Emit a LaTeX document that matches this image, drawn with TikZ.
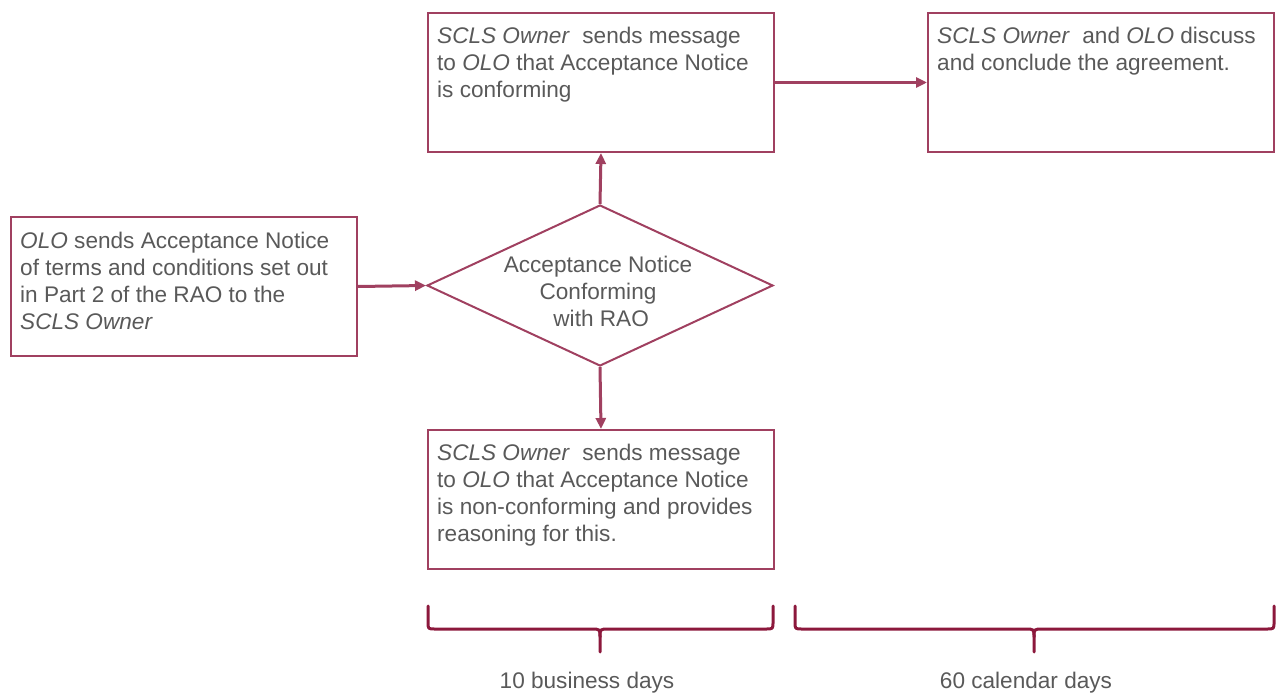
\documentclass[tikz,border=0pt]{standalone}
\usepackage{fontspec}
\setmainfont{Liberation Sans}
\usetikzlibrary{arrows.meta,shapes.geometric,calc}
\definecolor{framecol}{RGB}{160,64,96}
\definecolor{bracecol}{RGB}{140,24,60}
\definecolor{txtcol}{RGB}{89,89,89}
\begin{document}
\begin{tikzpicture}[x=1pt,y=-1pt,
  box/.style={draw=framecol,line width=2pt,minimum width=346pt,minimum height=139pt,inner sep=0pt,anchor=north west},
  body/.style={anchor=north west,inner sep=0pt,align=left,text=txtcol,font=\fontsize{22.6}{27.3}\selectfont},
  flow/.style={draw=framecol,line width=3pt,-{Triangle[length=11pt,width=10pt]}},
  bracket/.style={draw=bracecol,line width=3pt,line cap=round,line join=round},
  span/.style={text=txtcol,inner sep=0pt,font=\fontsize{22.6}{27}\selectfont}]
\useasboundingbox (0,0) rectangle (1282,695);

% process boxes
\node[box] (notice) at (10,216) {};
\node[box] (conf) at (427,12) {};
\node[box] (agree) at (927,12) {};
\node[box] (nonconf) at (427,429) {};
\node[draw=framecol,line width=2pt,shape=diamond,minimum width=346pt,minimum height=161pt,inner sep=0pt] (check) at (600,285.5) {};

% box texts
\node[body] (tnotice) at (20,231.5) {\textit{OLO} sends Acceptance Notice\\of terms and conditions set out\\in Part 2 of the RAO to the\\\textit{SCLS Owner}};
\node[body] (tconf) at (437,26.5) {\textit{SCLS Owner}\ \ sends message\\to \textit{OLO} that Acceptance Notice\\is conforming};
\node[body] (tagree) at (937,26.5) {\textit{SCLS Owner}\ \ and \textit{OLO} discuss\\and conclude the agreement.};
\node[body] (tnonconf) at (437,443.5) {\textit{SCLS Owner}\ \ sends message\\to \textit{OLO} that Acceptance Notice\\is non-conforming and provides\\reasoning for this.};
\node[body,anchor=center,align=center] (tcheck) at (598,291.5) {Acceptance Notice\\Conforming\\\ with RAO};

% connectors
\draw[flow] (notice.east) -- (check.west);
\draw[flow] (check.north) -- (conf.south);
\draw[flow] (check.south) -- (nonconf.north);
\draw[flow] (conf.east) -- (agree.west);

% time spans: curly brackets under the boxes
\coordinate (b1a) at (428,606);
\coordinate (b1m) at (600,652);
\coordinate (b1b) at (773,606);
\coordinate (b2a) at (795,606);
\coordinate (b2m) at (1034,652);
\coordinate (b2b) at (1274,606);
\foreach \a/\m/\b in {b1a/b1m/b1b, b2a/b2m/b2b}{
  \draw[bracket] (\a) -- ($(\a)+(0,16)$) .. controls ($(\a)+(0,23)$) .. ($(\a)+(7,23)$)
    -- ($(\m |- \a)+(-9,23)$) .. controls ($(\m |- \a)+(0,23)$) .. ($(\m |- \a)+(0,31)$)
    -- (\m);
  \draw[bracket] ($(\m |- \a)+(0,31)$) .. controls ($(\m |- \a)+(0,23)$) .. ($(\m |- \a)+(9,23)$)
    -- ($(\b)+(-7,23)$) .. controls ($(\b)+(0,23)$) .. ($(\b)+(0,16)$) -- (\b);
}
\node[span] (d10) at (587,683) {10 business days};
\node[span] (d60) at (1026,683) {60 calendar days};
\end{tikzpicture}
\end{document}
